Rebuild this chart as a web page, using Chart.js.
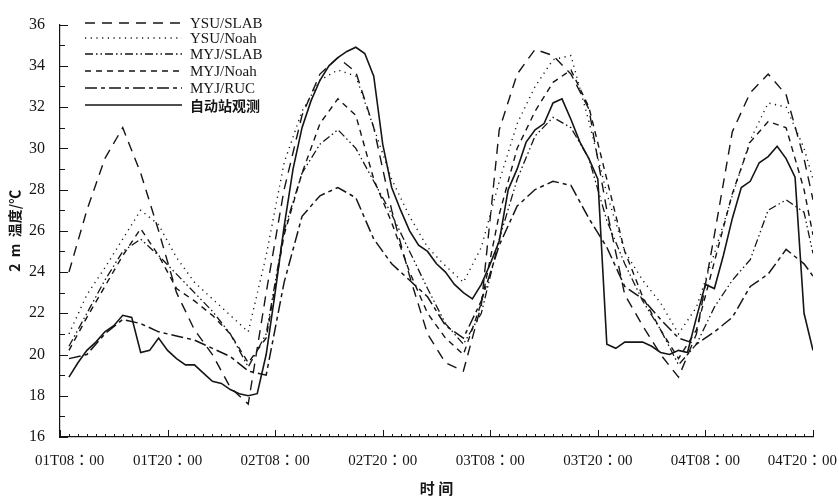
<!DOCTYPE html>
<html>
<head>
<meta charset="utf-8">
<script src="https://cdn.jsdelivr.net/npm/chart.js@4.4.1/dist/chart.umd.min.js"></script>
<style>
  html, body { margin: 0; padding: 0; background: #fff; }
  canvas { display: block; }
</style>
</head>
<body>
<canvas id="tempChart" width="839" height="499"></canvas>
<script>
// --- data ---
const seriesNames = ['YSU/SLAB', 'YSU/Noah', 'MYJ/SLAB', 'MYJ/Noah', 'MYJ/RUC', '自动站观测'];
const xTickLabels = ['01T08：00', '01T20：00', '02T08：00', '02T20：00', '03T08：00', '03T20：00', '04T08：00', '04T20：00'];

// hours after 01T08:00, model output every 2 h
const modelHours = [1, 3, 5, 7, 9, 11, 13, 15, 17, 19, 21, 23, 25, 27, 29, 31, 33, 35, 37, 39, 41, 43,
  45, 47, 49, 51, 53, 55, 57, 59, 61, 63, 65, 67, 69, 71, 73, 75, 77, 79, 81, 83, 84];

const ysuSlab = [24.0, 27.0, 29.5, 31.0, 28.8, 26.0, 23.0, 21.2, 20.0, 18.4, 17.6, 23.0, 28.0, 31.6, 33.6, 34.4,
  33.7, 31.0, 27.0, 23.8, 21.0, 19.6, 19.2, 22.4, 30.9, 33.6, 34.8, 34.5, 33.6, 31.9, 27.0, 22.9, 21.4, 20.0,
  18.9, 21.0, 25.8, 30.8, 32.7, 33.6, 32.6, 29.5, 27.5];
const ysuNoah = [21.0, 22.9, 24.2, 25.6, 27.0, 26.3, 24.7, 23.5, 22.7, 21.9, 21.1, 24.8, 29.3, 31.8, 33.3, 33.8,
  33.5, 31.0, 28.5, 26.7, 25.2, 24.3, 23.5, 25.2, 28.4, 31.2, 33.0, 34.3, 34.5, 31.3, 27.8, 25.0, 23.6, 22.5,
  21.0, 22.3, 24.9, 27.7, 30.4, 32.2, 32.0, 30.0, 28.5];
const myjSlab = [20.4, 22.0, 23.6, 25.0, 25.6, 24.8, 23.9, 23.0, 22.1, 21.0, 19.4, 21.0, 26.0, 28.8, 30.2, 30.9,
  30.0, 28.4, 26.8, 25.0, 23.2, 21.5, 20.5, 22.0, 25.6, 28.5, 30.6, 31.5, 31.0, 29.5, 26.5, 24.4, 22.6, 21.2,
  19.5, 20.5, 22.3, 23.6, 24.6, 27.0, 27.5, 26.9, 24.9];
const myjNoah = [20.2, 21.8, 23.3, 24.8, 26.1, 24.8, 23.2, 22.6, 21.9, 21.0, 19.6, 20.8, 25.8, 28.8, 31.2, 32.4,
  31.6, 28.5, 26.4, 24.0, 22.0, 20.8, 20.0, 22.5, 26.8, 30.0, 31.8, 33.2, 33.8, 32.0, 28.5, 25.0, 22.8, 21.2,
  19.8, 21.2, 24.5, 27.8, 30.3, 31.3, 31.0, 28.0, 25.8];
const myjRuc = [19.8, 20.0, 21.0, 21.7, 21.5, 21.1, 20.9, 20.7, 20.3, 19.9, 19.2, 19.0, 23.5, 26.7, 27.7, 28.1,
  27.6, 25.6, 24.4, 23.6, 22.8, 21.4, 20.8, 22.6, 25.3, 27.2, 28.0, 28.4, 28.2, 26.6, 25.2, 23.3, 22.7, 21.7,
  20.8, 20.5, 21.1, 21.8, 23.3, 23.9, 25.1, 24.4, 23.8];

// station observation, hourly
const obsHours = [1, 2, 3, 4, 5, 6, 7, 8, 9, 10, 11, 12, 13, 14, 15, 16, 17, 18, 19, 20, 21, 22, 23, 24,
  25, 26, 27, 28, 29, 30, 31, 32, 33, 34, 35, 36, 37, 38, 39, 40, 41, 42, 43, 44, 45, 46, 47, 48,
  49, 50, 51, 52, 53, 54, 55, 56, 57, 58, 59, 60, 61, 62, 63, 64, 65, 66, 67, 68, 69, 70, 71, 72,
  73, 74, 75, 76, 77, 78, 79, 80, 81, 82, 83, 84];
const obsTemp = [18.9, 19.6, 20.2, 20.6, 21.1, 21.4, 21.9, 21.8, 20.1, 20.2, 20.8, 20.2, 19.8, 19.5, 19.5, 19.1,
  18.7, 18.6, 18.3, 18.1, 18.0, 18.1, 20.0, 23.0, 26.2, 29.0, 31.0, 32.3, 33.3, 34.0, 34.4, 34.7,
  34.9, 34.6, 33.5, 30.2, 28.1, 27.0, 26.0, 25.3, 25.0, 24.4, 24.0, 23.4, 23.0, 22.7, 23.4, 24.4,
  25.5, 28.0, 29.0, 30.3, 30.9, 31.2, 32.2, 32.4, 31.4, 30.3, 29.5, 28.5, 20.5, 20.3, 20.6, 20.6,
  20.6, 20.4, 20.1, 20.0, 20.2, 20.1, 21.8, 23.4, 23.2, 24.8, 26.6, 28.1, 28.4, 29.3, 29.6, 30.1,
  29.5, 28.6, 22.0, 20.2];
// ----------------------------------

const ink = '#151515';
const pairUp = (xs, ys) => xs.map((h, i) => ({ x: h, y: ys[i] }));

const lineStyles = [
  { dash: [10, 7], width: 1.4 },              // YSU/SLAB  long dash
  { dash: [1.2, 4.5], width: 1.4 },           // YSU/Noah  dotted
  { dash: [8, 3, 1.5, 3, 1.5, 3], width: 1.3 }, // MYJ/SLAB  dash-dot-dot
  { dash: [6, 5], width: 1.4 },               // MYJ/Noah  dashed
  { dash: [12, 4, 4, 4], width: 1.5 },        // MYJ/RUC   long-short
  { dash: [], width: 1.6 }                    // observation
];
const seriesData = [
  pairUp(modelHours, ysuSlab),
  pairUp(modelHours, ysuNoah),
  pairUp(modelHours, myjSlab),
  pairUp(modelHours, myjNoah),
  pairUp(modelHours, myjRuc),
  pairUp(obsHours, obsTemp)
];

const serif = '"Liberation Serif", "Noto Sans CJK TC", serif';
const cjk = '"Noto Sans CJK SC", "Liberation Serif", sans-serif';

// inward tick marks, x labels and the in-plot legend
const axisMarks = {
  id: 'axisMarks',
  afterDraw(chart) {
    const { ctx, chartArea: a, scales: { x, y } } = chart;
    ctx.save();
    ctx.strokeStyle = ink;
    ctx.lineWidth = 1;
    ctx.setLineDash([]);
    ctx.beginPath();
    for (let v = y.min; v <= y.max; v++) {
      const py = Math.round(y.getPixelForValue(v)) + 0.5;
      ctx.moveTo(a.left, py);
      ctx.lineTo(a.left + (v % 2 === 0 ? 8 : 5), py);
    }
    for (let h = x.min; h <= x.max; h++) {
      const px = Math.round(x.getPixelForValue(h)) + 0.5;
      ctx.moveTo(px, a.bottom);
      ctx.lineTo(px, a.bottom - (h % 12 === 0 ? 7 : 3));
    }
    ctx.stroke();

    ctx.fillStyle = ink;
    ctx.font = '15px ' + serif;
    ctx.textAlign = 'center';
    ctx.textBaseline = 'middle';
    xTickLabels.forEach((t, i) => {
      const w = ctx.measureText(t).width;
      let px = x.getPixelForValue(i * 12);
      px = Math.min(Math.max(px, 35 + w / 2), chart.width - 2 - w / 2);
      ctx.fillText(t, px, a.bottom + 24);
    });

    // legend
    const rowY = [23, 38, 54, 71, 88, 105];
    chart.data.datasets.forEach((ds, i) => {
      const yy = rowY[i];
      ctx.beginPath();
      ctx.setLineDash(ds.borderDash || []);
      ctx.lineWidth = ds.borderWidth;
      ctx.moveTo(85, yy);
      ctx.lineTo(182, yy);
      ctx.stroke();
      ctx.setLineDash([]);
      ctx.textAlign = 'left';
      ctx.font = /[\u4e00-\u9fff]/.test(ds.label) ? 'bold 14px ' + cjk : '15px ' + serif;
      ctx.fillText(ds.label, 190, yy + 1);
    });
    ctx.restore();
  }
};

new Chart(document.getElementById('tempChart'), {
  type: 'line',
  data: {
    datasets: seriesNames.map((name, i) => ({
      label: name,
      data: seriesData[i],
      borderColor: ink,
      borderWidth: lineStyles[i].width,
      borderDash: lineStyles[i].dash,
      pointRadius: 0,
      tension: 0,
      fill: false
    }))
  },
  options: {
    responsive: false,
    animation: false,
    devicePixelRatio: 1,
    layout: { padding: { top: 12, right: 26, left: 0, bottom: 0 }, autoPadding: false },
    plugins: { legend: { display: false }, tooltip: { enabled: false } },
    scales: {
      x: {
        type: 'linear',
        min: 0,
        max: 84,
        ticks: { display: false },
        grid: { display: true, drawOnChartArea: false, drawTicks: false },
        border: { display: true, color: ink, width: 1.2 },
        title: {
          display: true,
          text: '时 间',
          color: ink,
          font: { family: cjk, size: 15, weight: 'bold' },
          padding: { top: 0, bottom: 2 }
        },
        afterFit: (scale) => { scale.height = 62; }
      },
      y: {
        min: 16,
        max: 36,
        ticks: {
          stepSize: 2,
          color: ink,
          padding: 15,
          font: { family: serif, size: 16 }
        },
        grid: { display: true, drawOnChartArea: false, drawTicks: false },
        border: { display: true, color: ink, width: 1.2 },
        title: {
          display: true,
          text: '2  m  温度/℃',
          color: ink,
          font: { family: cjk, size: 14, weight: 'bold' },
          padding: { top: 6, bottom: 0 }
        },
        afterFit: (scale) => { scale.width = 60; }
      }
    }
  },
  plugins: [axisMarks]
});
</script>
</body>
</html>
